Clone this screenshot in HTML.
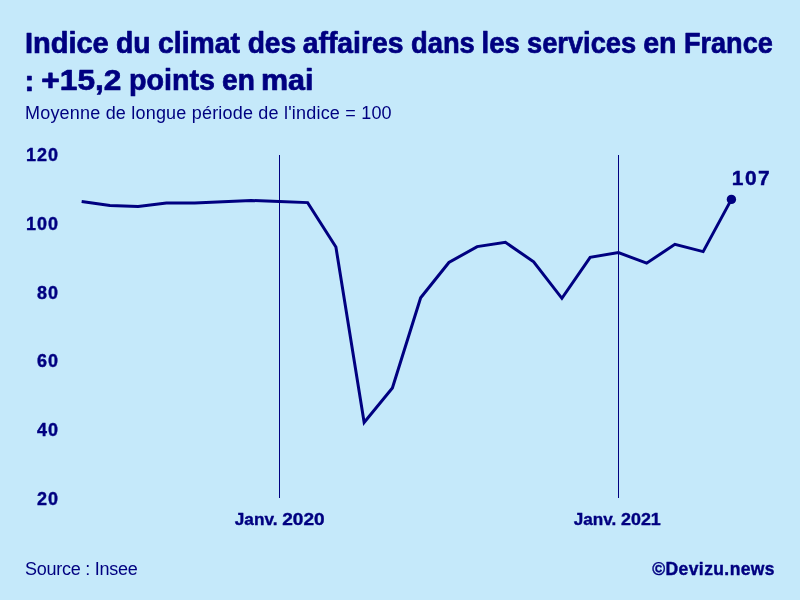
<!DOCTYPE html>
<html><head><meta charset="utf-8"><style>
html,body{margin:0;padding:0;background:#c5e9fa;}
svg{display:block;will-change:transform;}
text{font-family:"Liberation Sans",sans-serif;fill:#000080;}
.b{stroke:#000080;stroke-width:0.7;stroke-linejoin:round;}
.b2{stroke:#000080;stroke-width:0.4;stroke-linejoin:round;}
</style></head><body>
<svg width="800" height="600" viewBox="0 0 800 600">
<rect width="800" height="600" fill="#c5e9fa"/>
<g class="b" font-size="29" font-weight="bold"><text transform="translate(24.90 0) scale(1.0012 1)" y="53">Indice</text><text transform="translate(116.02 0) scale(0.9773 1)" y="53">du</text><text transform="translate(158.02 0) scale(0.9783 1)" y="53">climat</text><text transform="translate(247.63 0) scale(0.9729 1)" y="53">des</text><text transform="translate(302.72 0) scale(0.9772 1)" y="53">affaires</text><text transform="translate(410.96 0) scale(0.9439 1)" y="53">dans</text><text transform="translate(481.61 0) scale(0.9474 1)" y="53">les</text><text transform="translate(526.96 0) scale(0.9412 1)" y="53">services</text><text transform="translate(643.22 0) scale(0.9844 1)" y="53">en</text><text transform="translate(683.93 0) scale(0.9349 1)" y="53">France</text><text transform="translate(24.60 0) scale(1.0000 1)" y="90.5">:</text><text transform="translate(41.31 0) scale(1.0917 1)" y="90.5">+15,2</text><text transform="translate(129.02 0) scale(0.9881 1)" y="90.5">points</text><text transform="translate(222.03 0) scale(0.9688 1)" y="90.5">en</text><text transform="translate(260.90 0) scale(1.0522 1)" y="90.5">mai</text></g>
<text x="25" y="119" font-size="18" letter-spacing="0.2">Moyenne de longue période de l'indice = 100</text>
<g class="b2" font-size="18" font-weight="bold" text-anchor="end" letter-spacing="1">
<text x="59" y="161">120</text>
<text x="59" y="230">100</text>
<text x="59" y="298.5">80</text>
<text x="59" y="367">60</text>
<text x="59" y="436">40</text>
<text x="59" y="505">20</text>
</g>
<rect x="279" y="155" width="1" height="343" fill="#000080"/>
<rect x="618" y="155" width="1" height="343" fill="#000080"/>
<path d="M81.65 201.40 L109.90 205.50 L138.15 206.60 L166.40 203.00 L194.65 202.90 L222.90 201.70 L251.15 200.50 L279.40 201.60 L307.65 202.60 L335.90 247.00 L364.15 422.40 L392.40 387.90 L420.65 297.70 L448.90 262.50 L477.15 246.60 L505.40 242.30 L533.65 261.80 L561.90 298.30 L590.15 257.30 L618.40 252.60 L646.65 263.20 L674.90 244.30 L703.15 251.60 L731.40 199.40" fill="none" stroke="#000080" stroke-width="3" stroke-linejoin="miter"/>
<circle cx="731.4" cy="199.4" r="4.7" fill="#000080"/>
<text class="b2" x="751.5" y="184.8" font-size="21" font-weight="bold" text-anchor="middle" letter-spacing="1.5">107</text>
<g class="b2" font-size="17" font-weight="bold">
<text transform="translate(234.75 0) scale(1.0122 1)" y="525">Janv.</text><text transform="translate(282.25 0) scale(1.1216 1)" y="525">2020</text>
<text transform="translate(573.75 0) scale(1.0061 1)" y="525">Janv.</text><text transform="translate(621 0) scale(1.0526 1)" y="525">2021</text>
</g>
<text x="25" y="575.2" font-size="18" letter-spacing="-0.25">Source : Insee</text>
<text class="b2" x="775" y="574.8" font-size="17.5" font-weight="bold" text-anchor="end" letter-spacing="0.4">©Devizu.news</text>
</svg>
</body></html>
